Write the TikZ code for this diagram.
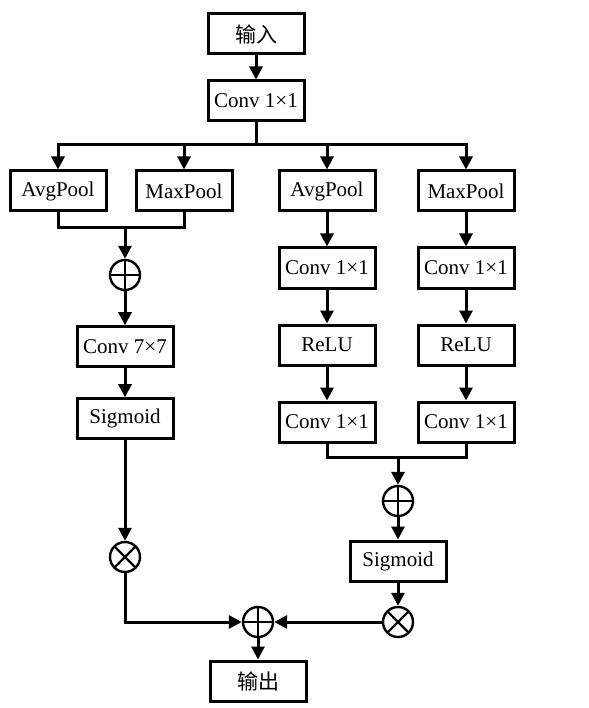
\documentclass[tikz,border=0pt]{standalone}
\usepackage{fontspec}
\setmainfont{Liberation Serif}
\newfontfamily\cjk{Noto Sans CJK SC}
\usetikzlibrary{arrows.meta, positioning}

\begin{document}
\begin{tikzpicture}[
  x=1pt, y=-1pt,
  node distance=34pt,
  boxnode/.style={draw, line width=3pt, minimum width=96pt, minimum height=40pt, inner sep=0pt, font=\fontsize{21}{25}\selectfont},
  opnode/.style={draw, circle, line width=2.4pt, minimum size=30pt, inner sep=0pt},
  plusnode/.style={opnode, path picture={\draw[line width=2.4pt] (path picture bounding box.north) -- (path picture bounding box.south) (path picture bounding box.west) -- (path picture bounding box.east);}},
  timesnode/.style={opnode, path picture={\draw[line width=2.4pt] (path picture bounding box.north west) -- (path picture bounding box.south east) (path picture bounding box.south west) -- (path picture bounding box.north east);}},
  link/.style={line width=3pt},
  arr/.style={line width=3pt, -{Triangle[length=13pt, width=13pt]}}
]
  \useasboundingbox (0,0) rectangle (588,708);

  \node[boxnode] (in) at (256,34) {\cjk 输入};
  \node[boxnode] (conv) at (256,101) {Conv 1×1};
  \coordinate (split) at (256,145);

  \node[boxnode] (avga) at (58,191) {AvgPool};
  \node[boxnode] (maxa) at (184,191) {MaxPool};
  \node[boxnode] (avgb) at (327,191) {AvgPool};
  \node[boxnode] (maxb) at (466,191) {MaxPool};

  \coordinate (joina) at (125,228);
  \node[plusnode] (suma) at (125,275) {};
  \node[boxnode, below=of suma] (conv7) {Conv 7×7};
  \node[boxnode, below=29pt of conv7] (siga) {Sigmoid};
  \node[timesnode] (mula) at (125,557) {};

  \node[boxnode, below=of avgb] (fcb1) {Conv 1×1};
  \node[boxnode, below=of fcb1] (relub) {ReLU};
  \node[boxnode, below=of relub] (fcb2) {Conv 1×1};
  \node[boxnode, below=of maxb] (fcc1) {Conv 1×1};
  \node[boxnode, below=of fcc1] (reluc) {ReLU};
  \node[boxnode, below=of reluc] (fcc2) {Conv 1×1};

  \coordinate (joinb) at (398,457);
  \node[plusnode] (sumb) at (398,501) {};
  \node[boxnode] (sigb) at (398,561) {Sigmoid};
  \node[timesnode] (mulb) at (398,622) {};

  \node[plusnode] (sumc) at (258,622) {};
  \node[boxnode] (out) at (258,681) {\cjk 输出};

  \draw[arr] (in) -- (conv);
  \draw[arr] (conv.south) -- (split) -| (avga.north);
  \draw[arr] (split) -| (maxa.north);
  \draw[arr] (split) -| (avgb.north);
  \draw[arr] (split) -| (maxb.north);

  \draw[link] (avga.south) |- (joina);
  \draw[link] (maxa.south) |- (joina);
  \draw[arr] (joina) -- (suma);
  \draw[arr] (suma) -- (conv7);
  \draw[arr] (conv7) -- (siga);
  \draw[arr] (siga) -- (mula);

  \draw[arr] (avgb) -- (fcb1);
  \draw[arr] (fcb1) -- (relub);
  \draw[arr] (relub) -- (fcb2);
  \draw[arr] (maxb) -- (fcc1);
  \draw[arr] (fcc1) -- (reluc);
  \draw[arr] (reluc) -- (fcc2);

  \draw[link] (fcb2.south) |- (joinb);
  \draw[link] (fcc2.south) |- (joinb);
  \draw[arr] (joinb) -- (sumb);
  \draw[arr] (sumb) -- (sigb);
  \draw[arr] (sigb) -- (mulb);

  \draw[arr] (mula) |- (sumc);
  \draw[arr] (mulb) -- (sumc);
  \draw[arr] (sumc) -- (out);
\end{tikzpicture}
\end{document}
